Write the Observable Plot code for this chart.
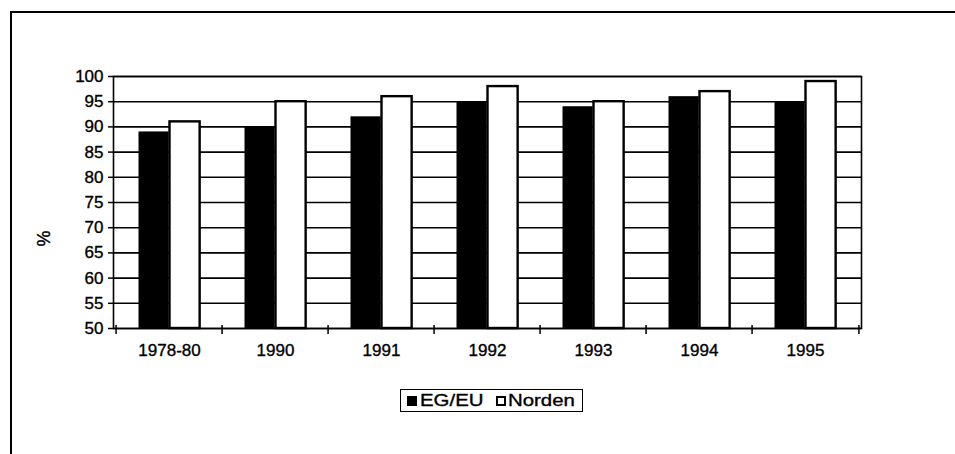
<!DOCTYPE html>
<html><head><meta charset="utf-8">
<script src="https://cdn.jsdelivr.net/npm/d3@7"></script>
<script src="https://cdn.jsdelivr.net/npm/@observablehq/plot@0.6"></script>
<style>
html,body{margin:0;padding:0;background:#fff;}
#wrap{position:relative;width:955px;height:454px;overflow:hidden;font-family:Arial,"Liberation Sans",sans-serif;color:#000;}
#border{position:absolute;left:10px;top:11px;width:960px;height:460px;border-left:2px solid #000;border-top:2px solid #000;}
#chart{position:absolute;left:0;top:0;}
#chart svg g[aria-label="y-axis tick label"] text,
#chart svg g[aria-label="x-axis tick label"] text{stroke:#000;stroke-width:0.35px;}
#ylabel{position:absolute;left:34px;top:228px;width:20px;text-align:center;font-size:18px;transform:rotate(-90deg);-webkit-text-stroke:0.4px #000;}
#legend{position:absolute;left:400px;top:389px;width:181px;height:21px;border:1.5px solid #000;background:#fff;}
.sw{position:absolute;top:6px;width:10px;height:10px;box-sizing:border-box;border:2px solid #000;}
.lt{position:absolute;top:1px;font-size:17px;line-height:19px;white-space:nowrap;transform-origin:left center;transform:scaleX(1.2);-webkit-text-stroke:0.35px #000;}
</style>
</head><body>
<div id="wrap">
  <div id="border"></div>
  <div id="chart"></div>
  <div id="ylabel">%</div>
  <div id="legend"></div>
</div>
<script>
const categories = ["1978-80", "1990", "1991", "1992", "1993", "1994", "1995"];
const series = ["EG/EU", "Norden"];
const seriesFill = ["#000", "#fff"];
const egEu = [89, 90, 92, 95, 94, 96, 95];
const norden = [91, 95, 96, 98, 95, 97, 99];
const yTicks = [50, 55, 60, 65, 70, 75, 80, 85, 90, 95, 100];

const data = categories.flatMap((c, i) => [
  {cat: c, series: series[0], value: egEu[i]},
  {cat: c, series: series[1], value: norden[i]}
]);

const W = 955, H = 454, mL = 113, mR = 94, mT = 76, mB = 126;
const step = (W - mL - mR) / categories.length;
const padOuter = 22.5, barW = 31;

const chart = Plot.plot({
  width: W, height: H,
  marginLeft: mL, marginRight: mR, marginTop: mT, marginBottom: mB,
  style: {fontFamily: "Arial, 'Liberation Sans', sans-serif", fontSize: "16px", color: "#000", background: "transparent", overflow: "visible"},
  x: {domain: categories, padding: 0, label: null},
  y: {domain: [50, 100], label: null},
  marks: [
    Plot.ruleY(yTicks, {y: d => d, stroke: "#000", strokeWidth: 1.6}),
    Plot.barY(data.filter(d => d.series === series[0]), {
      x: "cat", y1: 50, y2: "value", fill: seriesFill[0],
      insetLeft: padOuter, insetRight: step - padOuter - barW
    }),
    Plot.barY(data.filter(d => d.series === series[1]), {
      x: "cat", y1: 50, y2: "value", fill: seriesFill[1], stroke: "#000", strokeWidth: 2.4,
      insetLeft: padOuter + barW, insetRight: step - padOuter - 2 * barW
    }),
    Plot.frame({stroke: "#000", strokeWidth: 1.6}),
    Plot.ruleX(categories, {x: d => d, y1: 50, y2: 50, insetTop: -3, insetBottom: -6, dx: -step / 2, stroke: "#000", strokeWidth: 1.5}),
    Plot.ruleX([categories[categories.length - 1]], {x: d => d, y1: 50, y2: 50, insetTop: -3, insetBottom: -6, dx: step / 2, stroke: "#000", strokeWidth: 1.5}),
    Plot.axisY({ticks: yTicks, tickSize: 5, tickPadding: 5, tickFormat: d => String(d), fontSize: 17, label: null, strokeWidth: 1.5}),
    Plot.axisX({tickSize: 0, tickPadding: 15, fontSize: 17, label: null})
  ]
});
document.getElementById("chart").append(chart);

// legend
const legend = document.getElementById("legend");
const swLeft = [6, 95], txtLeft = [19, 107];
series.forEach((s, i) => {
  const sw = document.createElement("div");
  sw.className = "sw";
  sw.style.left = swLeft[i] + "px";
  sw.style.background = seriesFill[i];
  legend.append(sw);
  const t = document.createElement("div");
  t.className = "lt";
  t.style.left = txtLeft[i] + "px";
  t.textContent = s;
  legend.append(t);
});
</script>
</body></html>
